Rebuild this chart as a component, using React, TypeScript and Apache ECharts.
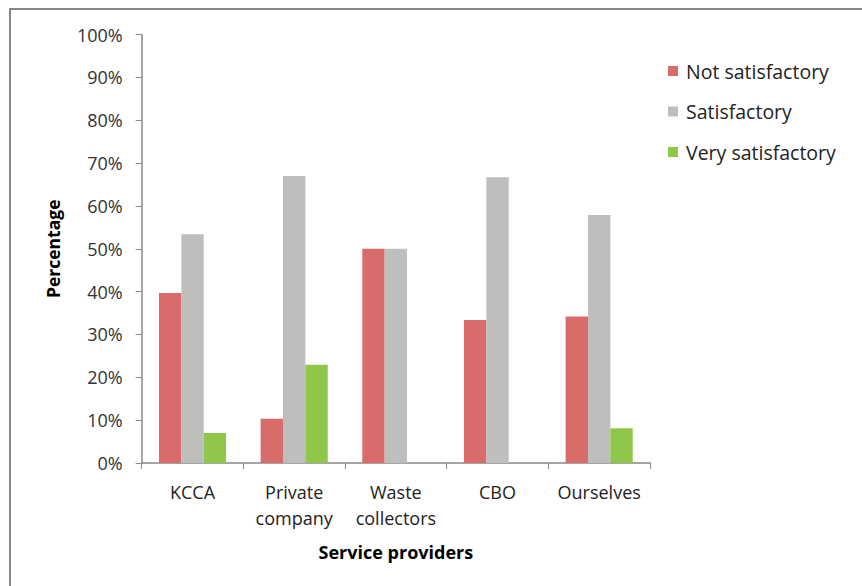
import React, { useEffect, useRef } from "react";
import * as echarts from "echarts";

const categories = ["KCCA", "Private\ncompany", "Waste\ncollectors", "CBO", "Ourselves"];
const notSatisfactory = [39.7, 10.3, 50.0, 33.4, 34.2];
const satisfactory = [53.4, 67.0, 50.0, 66.7, 57.9];
const verySatisfactory = [7.0, 22.9, 0, 0, 8.1];
const seriesNames = ["Not satisfactory", "Satisfactory", "Very satisfactory"];
const colors = ["#D96B6B", "#BEBEBC", "#8FC74A"];

const FONT = "Open Sans";

export default function App() {
  const ref = useRef<HTMLDivElement>(null);
  useEffect(() => {
    if (!ref.current) return;
    const chart = echarts.init(ref.current, null, { renderer: "svg" });
    const data = [notSatisfactory, satisfactory, verySatisfactory];
    chart.setOption({
      animation: false,
      backgroundColor: "#ffffff",
      textStyle: { fontFamily: FONT },
      graphic: [
        {
          type: "rect",
          shape: { x: 10, y: 9, width: 900, height: 620 },
          style: { fill: "none", stroke: "#878787", lineWidth: 2 },
          silent: true,
        },
      ],
      legend: {
        orient: "vertical",
        left: 668,
        top: 61,
        padding: 0,
        itemWidth: 10,
        itemHeight: 10,
        itemGap: 20.5,
        icon: "rect",
        data: seriesNames,
        textStyle: { fontFamily: FONT, fontSize: 19.5, color: "#222", lineHeight: 20, padding: [0, 0, 0, 3] },
      },
      grid: { left: 141.7, right: 212, top: 34.5, bottom: 123, containLabel: false },
      xAxis: {
        type: "category",
        data: categories,
        name: "Service providers",
        nameLocation: "middle",
        nameGap: 80,
        nameTextStyle: { fontFamily: FONT, fontSize: 18, fontWeight: "bold", color: "#000" },
        axisLine: { lineStyle: { color: "#888", width: 1.5 } },
        axisTick: { show: true, length: 6, inside: false, lineStyle: { color: "#888" }, alignWithLabel: false },
        axisLabel: { fontFamily: FONT, fontSize: 18, color: "#222", margin: 16, lineHeight: 26, interval: 0 },
      },
      yAxis: {
        type: "value",
        min: 0,
        max: 100,
        interval: 10,
        name: "Percentage",
        nameLocation: "middle",
        nameGap: 80,
        nameTextStyle: { fontFamily: FONT, fontSize: 17.5, fontWeight: "bold", color: "#000" },
        axisLine: { show: true, lineStyle: { color: "#888", width: 1.5 } },
        axisTick: { show: true, length: 6, lineStyle: { color: "#888" } },
        splitLine: { show: false },
        axisLabel: { fontFamily: FONT, fontSize: 18, color: "#333", margin: 19, formatter: "{value}%" },
      },
      series: seriesNames.map((name, i) => ({
        name,
        type: "bar",
        data: data[i],
        barGap: "0%",
        barCategoryGap: "34%",
        itemStyle: { color: colors[i], borderWidth: 0 },
      })),
    });
    return () => chart.dispose();
  }, []);
  return (
    <div
      ref={ref}
      style={{ position: "fixed", left: 0, top: 0, width: 862, height: 586 }}
    />
  );
}
